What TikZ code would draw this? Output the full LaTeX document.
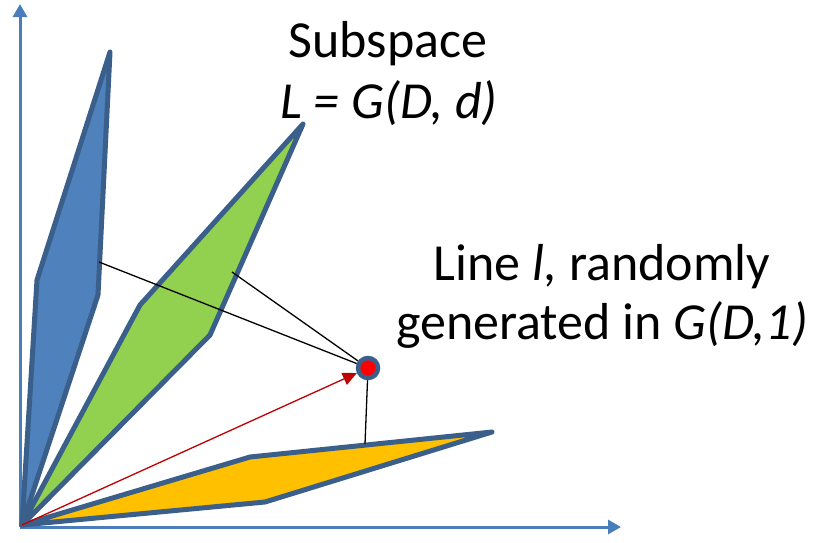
\documentclass[tikz,border=0pt]{standalone}
\usepackage{fontspec}
\setmainfont{Carlito}
\usetikzlibrary{arrows.meta}
\definecolor{axisblue}{HTML}{4A7EBB}
\definecolor{edgeblue}{HTML}{3A5F8B}
\definecolor{fillblue}{HTML}{4F81BD}
\definecolor{fillgreen}{HTML}{92D050}
\definecolor{fillorange}{HTML}{FFC000}
\definecolor{darkred}{HTML}{C00000}
\tikzset{
  axis/.style={draw=axisblue, line width=3pt, -{Triangle[length=13pt,width=14pt]}},
  plane/.style={draw=edgeblue, line width=5pt, line join=round},
  proj/.style={draw=black, line width=1.3pt},
  lbl/.style={font=\fontsize{52}{62}\selectfont, inner sep=0pt, anchor=base},
}
\begin{document}
\begin{tikzpicture}[x=1pt,y=-1pt]
\useasboundingbox (0,0) rectangle (820,542);
% axes
\coordinate (o) at (20,527);
\coordinate (ytip) at (20,4);
\coordinate (xtip) at (621,527);
\draw[axis] (o) -- (ytip);
\draw[axis] (o) -- (xtip);
% planes
\coordinate (b0) at (22,525);
\coordinate (b1) at (37,280);
\coordinate (b2) at (110,52);
\coordinate (b3) at (98,295);
\filldraw[plane, fill=fillblue] (b0) -- (b1) -- (b2) -- (b3) -- cycle;
\coordinate (g1) at (140,305);
\coordinate (g2) at (303,124);
\coordinate (g3) at (210,335);
\filldraw[plane, fill=fillgreen] (b0) -- (g1) -- (g2) -- (g3) -- cycle;
\coordinate (r1) at (250,457);
\coordinate (r2) at (492,432);
\coordinate (r3) at (265,502);
\filldraw[plane, fill=fillorange] (b0) -- (r1) -- (r2) -- (r3) -- cycle;
% point
\node[circle, draw=edgeblue, line width=4.5pt, fill=red, minimum size=20pt, inner sep=0pt] (p) at (368,368) {};
% projections
\coordinate (pb) at (99,262);
\coordinate (pg) at (232,272);
\coordinate (pr) at (365,444);
\draw[proj] (pb) -- (p);
\draw[proj] (pg) -- (p);
\draw[proj] (pr) -- (p);
% red arrow
\draw[darkred, line width=1.3pt, -{Triangle[length=14pt,width=13pt]}] (b0) -- (p);
% labels
\node[lbl] (t1) at (388,57) {Subspace};
\node[lbl] (t2) at (389,118) {\textit{L = G(D, d)}};
\node[lbl] (t3) at (602,280) {Line \textit{l,}\ randomly};
\node[lbl] (t4) at (602,339) {generated in \textit{G(D,1)}};
\end{tikzpicture}
\end{document}
